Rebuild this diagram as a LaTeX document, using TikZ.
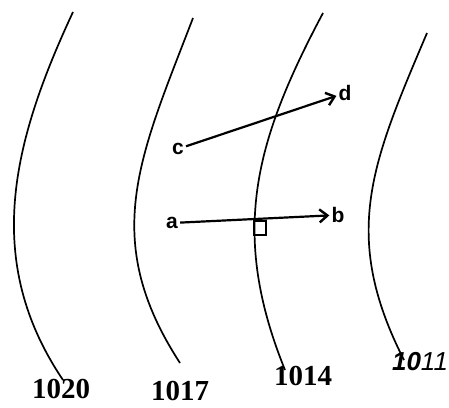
\documentclass[tikz,border=0pt]{standalone}
\usepackage{fontspec}
\newfontfamily\lblfont{Liberation Sans}
\newfontfamily\numfont{Liberation Serif}
\usetikzlibrary{arrows.meta,positioning}
\begin{document}
\begin{tikzpicture}[x=1pt,y=1pt,
    isobar/.style={line width=1.7pt},
    vec/.style={line width=2.2pt,-{Straight Barb[length=8pt,width=13pt,line width=2.4pt]}},
    pt/.style={font=\fontsize{21}{21}\selectfont\lblfont\bfseries, inner sep=2pt},
    press/.style={font=\fontsize{29}{29}\selectfont\numfont\bfseries, inner sep=0pt}]
        \useasboundingbox (0,0) rectangle (449,407);

        % isobars
        \draw[isobar] (73,395) to [out=245,in=124] (63,27);
        \draw[isobar] (193,389) to [out=249,in=123,looseness=1.1] (180,44);
        \draw[isobar] (323,394) to [out=242,in=112,looseness=1.05] (285,37);
        \draw[isobar] (427,374) to [out=247,in=117,looseness=1.1] (404,47);

        % right angle
        \draw[line width=1.2pt] (254,186) rectangle (266,172);

        \node[pt] (a) at (172,184) {a};
        \node[pt] (b) at (338,192) {b};
        \node[pt] (c) at (178,258) {c};
        \node[pt] (d) at (345,314) {d};

        \draw[vec] (a) -- (b);
        \draw[vec] (c) -- (d);

        \node[press] (p1020) at (61,18) {1020};
        \node[press] (p1017) at (180,16) {1017};
        \node[press] (p1014) at (303,31) {1014};
        \node[press,font=\fontsize{26}{26}\selectfont\lblfont\itshape] (p1011) at (420,45) {{\bfseries 10}11};
\end{tikzpicture}
\end{document}
